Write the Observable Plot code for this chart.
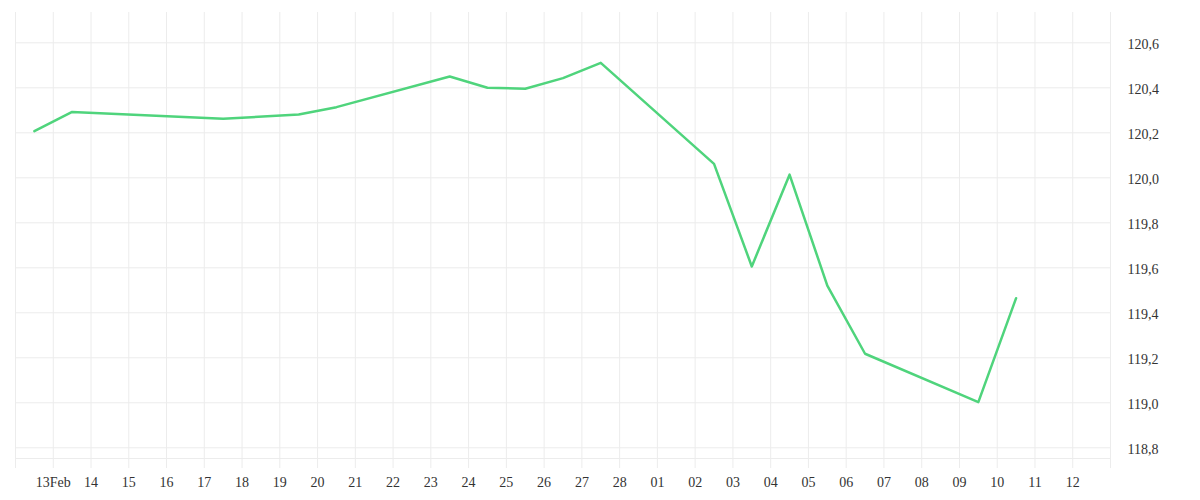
<!DOCTYPE html>
<html>
<head>
<meta charset="utf-8">
<script src="https://cdn.jsdelivr.net/npm/d3@7"></script>
<script src="https://cdn.jsdelivr.net/npm/@observablehq/plot@0.6"></script>
<style>
  html, body { margin: 0; padding: 0; background: #fff; }
</style>
</head>
<body>
<div id="chart"></div>
<script>
// Data (2015, trading days)
const dates = ["2015-02-12","2015-02-13","2015-02-17","2015-02-19","2015-02-20","2015-02-23","2015-02-24","2015-02-25","2015-02-26","2015-02-27","2015-03-02","2015-03-03","2015-03-04","2015-03-05","2015-03-06","2015-03-09","2015-03-10"];
const values = [120.207,120.293,120.262,120.281,120.314,120.450,120.400,120.396,120.443,120.511,120.062,119.606,120.014,119.521,119.218,119.003,119.465];
const yTicks = [118.8,119.0,119.2,119.4,119.6,119.8,120.0,120.2,120.4,120.6];
const xStart = "2015-02-12";
const xEnd = "2015-03-13";

const data = dates.map((d, i) => ({date: new Date(d + "T12:00:00Z"), value: values[i]}));
const x0 = new Date(xStart + "T00:00:00Z");
const x1 = new Date(xEnd + "T00:00:00Z");
const days = d3.utcDay.range(x0, d3.utcDay.offset(x1, 1));
const yDomain = [118.7524, 120.7347];

const fmtX = d => {
  if (+d === +x0 || +d === +x1) return "";
  const day = d3.utcFormat("%d")(d);
  if (d.getUTCMonth() === 1 && d.getUTCDate() === 13) return "13Feb";
  return day;
};
const fmtY = v => d3.format(".1f")(v).replace(".", ",");

const chart = Plot.plot({
  width: 1200,
  height: 500,
  marginLeft: 15,
  marginRight: 90,
  marginTop: 12,
  marginBottom: 42,
  style: {fontFamily: "'Liberation Serif', serif", fontSize: "14px", color: "#333", background: "#fff"},
  x: {type: "utc", domain: [x0, x1]},
  y: {domain: yDomain},
  marks: [
    Plot.ruleY(yTicks, {stroke: "#ececec", strokeWidth: 1}),
    Plot.ruleY([yDomain[0]], {stroke: "#ececec", strokeWidth: 1}),
    Plot.ruleX(days, {stroke: "#ececec", strokeWidth: 1}),
    Plot.axisX(days, {anchor: "bottom", tickSize: 10, stroke: "#ececec", fill: "#333", tickPadding: 9, tickFormat: fmtX, label: null}),
    Plot.axisY(yTicks, {anchor: "right", tickSize: 0, tickPadding: 17, textAnchor: "start", fill: "#333", dy: 2, tickFormat: fmtY, label: null}),
    Plot.line(data, {x: "date", y: "value", stroke: "#4fd47c", strokeWidth: 2.5, curve: "linear"})
  ]
});
document.getElementById("chart").appendChild(chart);
</script>
</body>
</html>
